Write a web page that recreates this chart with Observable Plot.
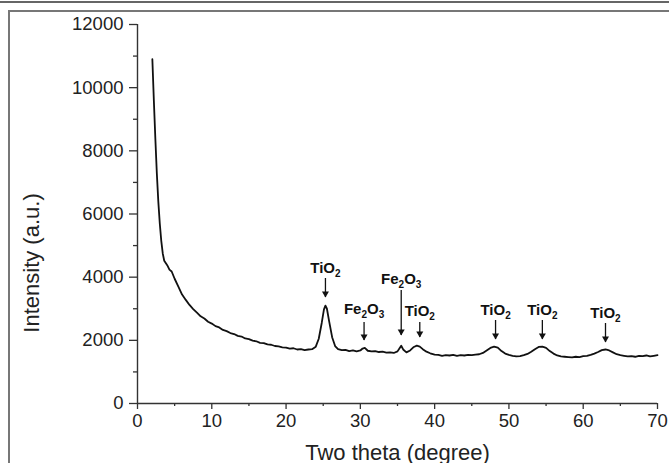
<!DOCTYPE html>
<html><head><meta charset="utf-8">
<script src="https://cdn.jsdelivr.net/npm/d3@7"></script>
<script src="https://cdn.jsdelivr.net/npm/@observablehq/plot@0.6"></script>
<style>
html,body{margin:0;padding:0;background:#fff;}
#wrap{position:relative;width:669px;height:463px;overflow:hidden;}
#topline{position:absolute;left:0;top:1px;width:669px;height:0;border-top:2px solid #666;}
#box{position:absolute;left:8px;top:10px;width:700px;height:500px;border-left:2px solid #777;border-top:2px solid #777;}
#chart{position:absolute;left:0;top:0;}
</style></head><body>
<div id="wrap"><div id="topline"></div><div id="box"></div><div id="chart"></div></div>
<script>
// XRD pattern
const twoTheta = [2.0,2.2,2.4,2.6,2.8,3.0,3.2,3.4,3.6,3.8,4.0,4.3,4.6,5.0,5.5,6.0,6.5,7.0,7.5,8.0,8.5,9.0,9.5,10,10.5,11,11.5,12,12.5,13,13.5,14,14.5,15,15.5,16,16.5,17,17.5,18,18.5,19,19.5,20,20.5,21,21.5,22,22.5,23,23.5,24,24.4,24.8,25.1,25.3,25.5,25.8,26.2,26.6,27,27.5,28,28.5,29,29.5,30,30.3,30.6,31,31.5,32,32.5,33,33.5,34,34.5,35,35.3,35.5,35.8,36.2,36.7,37.2,37.6,38.0,38.4,38.9,39.4,40,40.5,41,41.5,42,42.5,43,43.5,44,44.5,45,45.5,46,46.5,47,47.5,48,48.5,49,49.5,50,50.5,51,51.5,52,52.5,53,53.5,54,54.5,55,55.5,56,56.5,57,57.5,58,58.5,59,59.5,60,60.5,61,61.5,62,62.5,63,63.5,64,64.5,65,65.5,66,66.5,67,67.5,68,68.5,69,69.5,70];
const intensity = [10900,9600,8400,7300,6400,5700,5150,4750,4520,4450,4380,4240,4180,3950,3700,3450,3280,3120,2990,2880,2760,2690,2590,2530,2450,2410,2330,2290,2230,2200,2140,2120,2060,2040,1990,1970,1920,1910,1870,1860,1820,1810,1780,1770,1740,1750,1710,1720,1690,1710,1720,1800,2050,2550,2980,3100,3000,2600,2100,1820,1720,1690,1700,1660,1680,1650,1680,1740,1760,1670,1650,1660,1630,1640,1610,1620,1600,1650,1760,1830,1700,1620,1680,1790,1830,1800,1720,1640,1590,1550,1540,1510,1530,1520,1540,1510,1530,1520,1540,1530,1550,1560,1600,1680,1760,1800,1770,1660,1580,1540,1510,1490,1500,1530,1570,1640,1720,1790,1800,1760,1660,1580,1520,1490,1480,1470,1460,1480,1470,1500,1510,1540,1580,1630,1690,1710,1680,1620,1560,1530,1510,1490,1500,1480,1510,1500,1520,1490,1510,1530];

// peak annotations
const peakPos   = [25.3, 30.5, 35.5, 38.0, 48.2, 54.5, 63.0];
const peakPhase = ["TiO2","Fe2O3","Fe2O3","TiO2","TiO2","TiO2","TiO2"];
const labelLevel = [4275, 2977, 3926, 2913, 2945, 2945, 2850];
const arrowFrom  = [3958, 2565, 3578, 2565, 2628, 2628, 2533];
const arrowTo    = [3357, 1995, 2153, 2090, 2027, 2027, 1932];

const xTicks = [0,10,20,30,40,50,60,70];
const xMinor = [5,15,25,35,45,55,65];
const yTicks = [0,2000,4000,6000,8000,10000,12000];
const yMinor = [1000,3000,5000,7000,9000,11000];
const xTitle = "Two theta (degree)";
const yTitle = "Intensity (a.u.)";

const pattern = twoTheta.map((t,i)=>({t, v:intensity[i]}));
const ann = peakPos.map((p,i)=>({p, phase:peakPhase[i], lv:labelLevel[i], a:arrowFrom[i], b:arrowTo[i]}));

const axisStyle = {stroke:"#333", strokeWidth:1.3, label:null, color:"#222"};
const fmt = d3.format("d");
const chart = Plot.plot({
  width:669, height:463,
  marginLeft:137, marginRight:12, marginTop:24, marginBottom:60,
  style:{fontFamily:"'Liberation Sans', Arial, sans-serif", fontSize:"18.5px", color:"#222", background:"transparent", overflow:"visible"},
  x:{domain:[0,70]},
  y:{domain:[0,12000]},
  marks:[
    Plot.axisX(xMinor, {...axisStyle, tickSize:3, tickFormat:()=>""}),
    Plot.axisX(xTicks, {...axisStyle, tickSize:6, tickPadding:4, tickFormat:fmt}),
    Plot.axisY(yMinor, {...axisStyle, tickSize:4, tickFormat:()=>""}),
    Plot.axisY(yTicks, {...axisStyle, tickSize:8, tickPadding:6, tickFormat:fmt}),
    Plot.ruleY([0], {stroke:"#333", strokeWidth:1.4}),
    Plot.ruleX([0], {stroke:"#333", strokeWidth:1.4}),
    Plot.line(pattern, {x:"t", y:"v", stroke:"#111", strokeWidth:1.8}),
    Plot.ruleX(ann, {x:"p", y1:"a", y2:"b", stroke:"#111", strokeWidth:1.3}),
    Plot.dot(ann, {x:"p", y:"b", symbol:"triangle", rotate:180, r:2.6, fill:"#111", stroke:null, dy:-4}),
    Plot.text(ann, {x:"p", y:"lv", text:"phase", fontWeight:"bold", fontSize:15, fill:"#111"}),
    Plot.text([xTitle], {frameAnchor:"bottom", dy:56, fontSize:22, fill:"#222"}),
    Plot.text([yTitle], {frameAnchor:"left", textAnchor:"middle", dx:-106, dy:49, rotate:-90, fontSize:22, fill:"#222"})
  ]
});
document.getElementById("chart").appendChild(chart);

// chemical subscripts
d3.select(chart).selectAll("text").each(function(){
  const s = this.textContent;
  if (!/^(TiO2|Fe2O3)$/.test(s)) return;
  const el = d3.select(this);
  el.text(null);
  const parts = s.match(/\d+|\D+/g);
  let sub = false;
  parts.forEach(part=>{
    const isNum = /\d/.test(part);
    const ts = el.append("tspan").text(part);
    if (isNum) { ts.attr("font-size", 10).attr("dy", sub ? 0 : 4); sub = true; }
    else { if (sub) ts.attr("dy", -4); sub = false; }
  });
});
</script>
</body></html>
